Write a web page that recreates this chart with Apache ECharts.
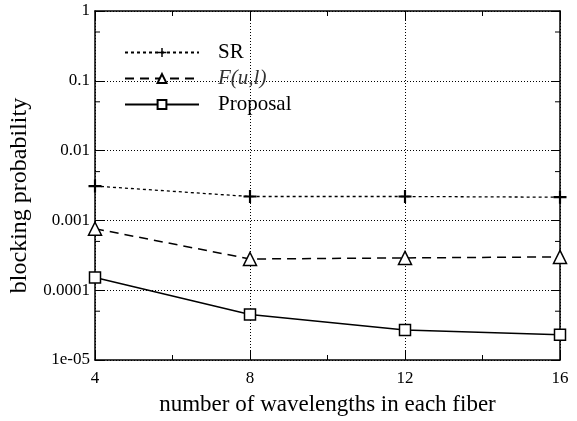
<!DOCTYPE html>
<html><head><meta charset="utf-8">
<script src="https://cdn.jsdelivr.net/npm/echarts@6/dist/echarts.min.js"></script>
<style>html,body{margin:0;padding:0;background:#fff}#c{width:577px;height:421px}</style>
</head><body><div id="c"></div>
<script>
const categories = [4, 8, 12, 16];
const srValues = [0.0031, 0.0022, 0.0022, 0.00215];
const fulValues = [0.00076, 0.00028, 0.00029, 0.0003];
const proposalValues = [0.000152, 0.000045, 0.000027, 0.000023];
const yTickLabels = ['1e-05', '0.0001', '0.001', '0.01', '0.1', '1'];
const yMinorTicks = [0.5, 0.05, 0.005, 0.0005, 0.00005];
const seriesNames = ['SR', 'F(u,l)', 'Proposal'];

const FONT = 'Liberation Serif';
const chart = echarts.init(document.getElementById('c'), null, {renderer: 'canvas'});
const xMin = 4, xMax = 16;
const plus = 'path://M5,0H7V5H12V7H7V12H5V7H0V5H5Z';

function pts(vals) { return categories.map((c, i) => [c, vals[i]]); }

const commonX = {
  type: 'value', min: xMin, max: xMax, interval: 4,
  axisLine: {show: true, onZero: false, lineStyle: {color: '#000', width: 1.5}},
  axisTick: {show: true, inside: true, length: 9, lineStyle: {color: '#000', width: 1}},
  minorTick: {show: true, splitNumber: 2, length: 5, lineStyle: {color: '#000', width: 1}}
};
const commonY = {
  type: 'log', logBase: 10, min: 1e-5, max: 1,
  axisLine: {show: true, onZero: false, lineStyle: {color: '#000', width: 1.5}},
  axisTick: {show: true, inside: true, length: 9, lineStyle: {color: '#000', width: 1}}
};

chart.setOption({
  animation: false,
  backgroundColor: '#fff',
  textStyle: {fontFamily: FONT},
  grid: {left: 95, right: 17, top: 11, bottom: 60, containLabel: false},
  legend: {
    data: seriesNames,
    orient: 'vertical', left: 119, top: 37,
    itemWidth: 74, itemHeight: 11, itemGap: 5,
    textStyle: {fontFamily: FONT, fontSize: 21, color: '#000', lineHeight: 20, padding: [0, 0, 0, 14],
      rich: {i: {fontFamily: FONT, fontSize: 21, fontStyle: 'italic', color: '#333'}}},
    formatter: n => n === 'F(u,l)' ? '{i|F(u,l)}' : n
  },
  xAxis: [
    Object.assign({}, commonX, {
      position: 'bottom',
      name: 'number of wavelengths in each fiber', nameLocation: 'middle', nameGap: 33,
      nameTextStyle: {fontFamily: FONT, fontSize: 23, color: '#000'},
      axisLabel: {show: true, fontFamily: FONT, fontSize: 17, color: '#000', margin: 10},
      splitLine: {show: true, lineStyle: {color: '#000', width: 1, type: [1, 2]}}
    }),
    Object.assign({}, commonX, {
      position: 'top', axisLabel: {show: false}, splitLine: {show: false}
    })
  ],
  yAxis: [
    Object.assign({}, commonY, {
      position: 'left',
      name: 'blocking probability', nameLocation: 'middle', nameGap: 63,
      nameTextStyle: {fontFamily: FONT, fontSize: 24, color: '#000', padding: [0, 20, 0, 0]},
      axisLabel: {show: true, fontFamily: FONT, fontSize: 17, color: '#000', margin: 5,
        formatter: v => yTickLabels[Math.round(Math.log10(v)) + 5]},
      splitLine: {show: true, lineStyle: {color: '#000', width: 1, type: [1, 2]}}
    }),
    Object.assign({}, commonY, {
      position: 'right', axisLabel: {show: false}, splitLine: {show: false}
    })
  ],
  series: [
    {
      name: 'SR', type: 'line', data: pts(srValues),
      symbol: plus, symbolSize: 13,
      lineStyle: {color: '#000', width: 1.3, type: [3, 3]},
      itemStyle: {color: '#000', borderWidth: 0}, z: 3
    },
    {
      name: 'F(u,l)', type: 'line', data: pts(fulValues),
      symbol: 'triangle', symbolSize: 13,
      lineStyle: {color: '#000', width: 1.5, type: [9, 6]},
      itemStyle: {color: '#fff', borderColor: '#000', borderWidth: 1.5}, z: 3
    },
    {
      name: 'Proposal', type: 'line', data: pts(proposalValues),
      symbol: 'rect', symbolSize: 11,
      lineStyle: {color: '#000', width: 1.5, type: 'solid'},
      itemStyle: {color: '#fff', borderColor: '#000', borderWidth: 1.5}, z: 3
    },
    {
      name: 'yMinor', type: 'custom', silent: true, clip: false,
      data: yMinorTicks.map(v => [xMin, v]),
      renderItem: function (params, api) {
        const v = api.value(1);
        const l = api.coord([xMin, v]);
        const r = api.coord([xMax, v]);
        const st = {stroke: '#000', lineWidth: 1};
        return {type: 'group', children: [
          {type: 'line', shape: {x1: l[0], y1: l[1], x2: l[0] + 5, y2: l[1]}, style: st},
          {type: 'line', shape: {x1: r[0], y1: r[1], x2: r[0] - 5, y2: r[1]}, style: st}
        ]};
      }
    }
  ]
});
</script>
</body></html>
